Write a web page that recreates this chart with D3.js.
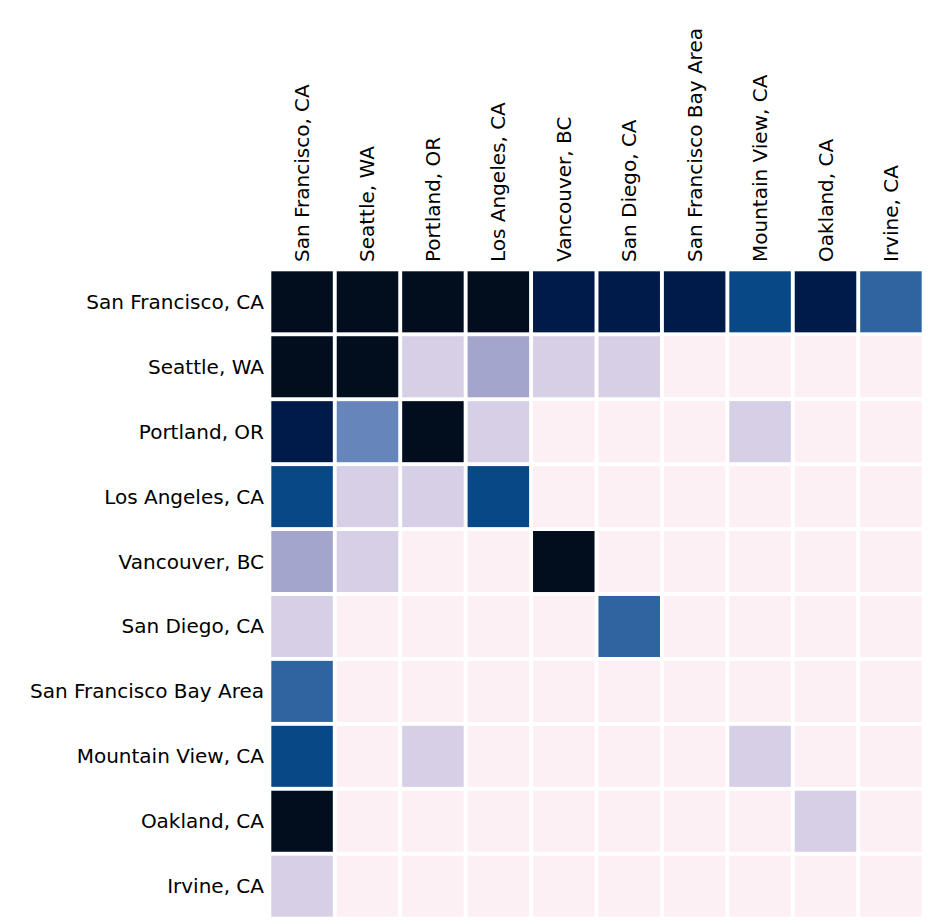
<!DOCTYPE html>
<html><head><meta charset="utf-8">
<script src="https://cdn.jsdelivr.net/npm/d3@7"></script>
<style>body{margin:0;background:#fff}</style>
</head><body>
<svg id="chart"></svg>
<script>
const cities = ['San Francisco, CA', 'Seattle, WA', 'Portland, OR', 'Los Angeles, CA', 'Vancouver, BC',
  'San Diego, CA', 'San Francisco Bay Area', 'Mountain View, CA', 'Oakland, CA', 'Irvine, CA']

// co-occurrence counts, row by row
const counts = [
  [140, 120, 110, 100, 40, 38, 36, 20, 34, 12],
  [120, 90, 2, 4, 2, 2, 0, 0, 0, 0],
  [40, 8, 80, 2, 0, 0, 0, 2, 0, 0],
  [20, 2, 2, 20, 0, 0, 0, 0, 0, 0],
  [4, 2, 0, 0, 70, 0, 0, 0, 0, 0],
  [2, 0, 0, 0, 0, 12, 0, 0, 0, 0],
  [12, 0, 0, 0, 0, 0, 0, 0, 0, 0],
  [20, 0, 2, 0, 0, 0, 0, 2, 0, 0],
  [70, 0, 0, 0, 0, 0, 0, 0, 2, 0],
  [2, 0, 0, 0, 0, 0, 0, 0, 0, 0],
]

const thresholds = [1, 3, 6, 10, 16, 30, 60]
const palette = ['#fcf0f4', '#d6cfe6', '#a3a5cc', '#6585bb', '#2e64a0', '#094887', '#001a4a', '#020d1d']

const width = 928, height = 924
const margin = { top: 270, left: 270, right: 5, bottom: 6 }

const svg = d3.select('#chart').attr('width', width).attr('height', height)

const x = d3.scaleBand().domain(cities).range([margin.left, width - margin.right]).paddingInner(0.06).paddingOuter(0.02)
const y = d3.scaleBand().domain(cities).range([margin.top, height - margin.bottom]).paddingInner(0.06).paddingOuter(0.02)
const color = d3.scaleThreshold().domain(thresholds).range(palette)

const cells = counts.flatMap((row, i) => row.map((v, j) => ({ r: cities[i], c: cities[j], v })))

svg.append('g').selectAll('rect')
  .data(cells)
  .join('rect')
  .attr('x', d => x(d.c))
  .attr('y', d => y(d.r))
  .attr('width', x.bandwidth())
  .attr('height', y.bandwidth())
  .attr('fill', d => color(d.v))

const font = 'font-family:"DejaVu Sans";font-size:20px;fill:#000'

// row labels
svg.append('g').selectAll('text')
  .data(cities)
  .join('text')
  .attr('x', margin.left - 6)
  .attr('y', d => y(d) + y.bandwidth() / 2)
  .attr('dy', '0.35em')
  .attr('text-anchor', 'end')
  .attr('style', font)
  .text(d => d)

// column labels
svg.append('g').selectAll('text')
  .data(cities)
  .join('text')
  .attr('transform', d => `translate(${x(d) + x.bandwidth() / 2},${margin.top - 8}) rotate(-90)`)
  .attr('dy', '0.35em')
  .attr('text-anchor', 'start')
  .attr('style', font)
  .text(d => d)
</script>
</body></html>
